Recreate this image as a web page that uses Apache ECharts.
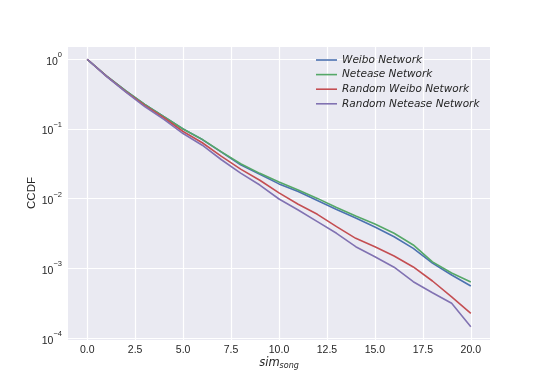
<!DOCTYPE html>
<html>
<head>
<meta charset="utf-8">
<script src="https://cdn.jsdelivr.net/npm/echarts@6/dist/echarts.min.js"></script>
<style>html,body{margin:0;padding:0;background:#fff}#c{width:545px;height:382px}</style>
</head>
<body>
<div id="c"></div>
<script>
const xValues = [0,1,2,3,4,5,6,7,8,9,10,11,12,13,14,15,16,17,18,19,20];
const seriesNames = ['Weibo Network','Netease Network','Random Weibo Network','Random Netease Network'];
const weibo = [1, 0.58, 0.355, 0.225, 0.15, 0.1, 0.0705, 0.0465, 0.0306, 0.0224, 0.0163, 0.0127, 0.00942, 0.0070, 0.00528, 0.00393, 0.00285, 0.00194, 0.00119, 0.000804, 0.000559];
const netease = [1, 0.58, 0.355, 0.225, 0.15, 0.1, 0.071, 0.047, 0.0317, 0.0231, 0.0174, 0.0133, 0.0101, 0.00748, 0.00565, 0.00434, 0.00319, 0.00217, 0.00124, 0.00086, 0.00064];
const randomWeibo = [1, 0.575, 0.345, 0.218, 0.145, 0.092, 0.0635, 0.0405, 0.0266, 0.0184, 0.0121, 0.00831, 0.00597, 0.00397, 0.0027, 0.00205, 0.00151, 0.00105, 0.00066, 0.00039, 0.000227];
const randomNetease = [1, 0.57, 0.34, 0.21, 0.137, 0.086, 0.0585, 0.0362, 0.0233, 0.0157, 0.0099, 0.00689, 0.00468, 0.00319, 0.00205, 0.00147, 0.00104, 0.000645, 0.000448, 0.000316, 0.000146];
const xTicks = [0, 2.5, 5, 7.5, 10, 12.5, 15, 17.5, 20];
const colors = ['#4C72B0','#55A868','#C44E52','#8172B2'];

const allSeries = [weibo, netease, randomWeibo, randomNetease];
const chart = echarts.init(document.getElementById('c'), null, {renderer:'canvas'});
const textColor = '#262626';
chart.setOption({
  animation: false,
  backgroundColor: '#ffffff',
  color: colors,
  grid: {left: 68, right: 55, top: 46, bottom: 42, show: true, backgroundColor: '#EAEAF2', borderWidth: 0},
  legend: {
    orient: 'vertical', left: 311, top: 49,
    icon: 'rect', itemWidth: 21, itemHeight: 1.6, itemGap: 2.6,
    textStyle: {color: textColor, fontFamily: 'DejaVu Sans', fontStyle: 'italic', fontSize: 10.5, lineHeight: 12},
    data: seriesNames
  },
  xAxis: {
    type: 'value', min: -1, max: 21,
    name: '{i|sim}{s|song}', nameLocation: 'middle', nameGap: 16, nameMoveOverlap: false,
    nameTextStyle: {rich: {
      i: {fontFamily: 'DejaVu Sans', fontStyle: 'italic', fontSize: 11.5, color: textColor},
      s: {fontFamily: 'DejaVu Sans', fontStyle: 'italic', fontSize: 8, color: textColor, verticalAlign: 'bottom', padding: [6,0,0,0]}
    }},
    axisLine: {show: false},
    axisTick: {show: false, customValues: xTicks},
    axisLabel: {color: textColor, fontFamily: 'Liberation Sans', fontSize: 10.5, margin: 5,
      customValues: xTicks, formatter: v => Number(v).toFixed(1)},
    splitLine: {show: true, lineStyle: {color: '#ffffff', width: 1.2}}
  },
  yAxis: {
    type: 'log', logBase: 10, min: 0.000094, max: 1.55,
    name: 'CCDF', nameLocation: 'middle', nameGap: 30, nameRotate: 90, nameMoveOverlap: false,
    nameTextStyle: {color: textColor, fontFamily: 'Liberation Sans', fontSize: 11.5},
    axisLine: {show: false}, axisTick: {show: false},
    axisLabel: {color: textColor, fontFamily: 'Liberation Sans', fontSize: 10.5, margin: 6,
      formatter: v => {
        const l = Math.log10(v); const e = Math.round(l);
        if (Math.abs(l - e) > 1e-6) return '';
        return '{b|10}{sup|' + (e < 0 ? '\u2212' + (-e) : String(e)) + '}';
      },
      rich: {
        b: {fontFamily: 'Liberation Sans', fontSize: 10.5, color: textColor, padding: [5,0,0,0]},
        sup: {fontFamily: 'Liberation Sans', fontSize: 7.5, color: textColor, verticalAlign: 'top'}
      }
    },
    splitLine: {show: true, lineStyle: {color: '#ffffff', width: 1.2}}
  },
  series: allSeries.map((arr, k) => ({
    name: seriesNames[k], type: 'line', showSymbol: false, symbol: 'none',
    lineStyle: {width: 1.6, color: colors[k]},
    itemStyle: {color: colors[k]},
    data: xValues.map((x, i) => [x, arr[i]])
  }))
});
</script>
</body>
</html>
